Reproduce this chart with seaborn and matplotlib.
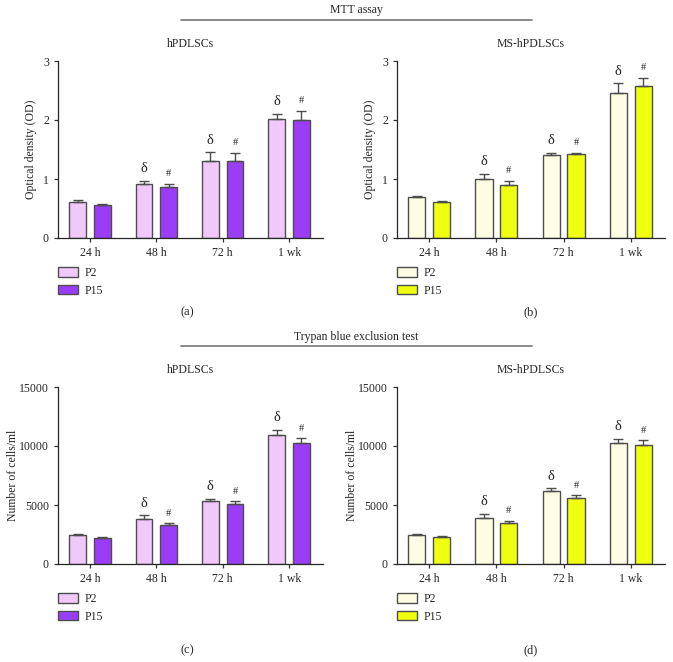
import pandas as pd
import matplotlib
matplotlib.use('Agg')
import matplotlib.pyplot as plt
from matplotlib.lines import Line2D
import seaborn as sns

# %% Data
times = ['24 h', '48 h', '72 h', '1 wk']
passages = ['P2', 'P15']

# MTT assay, optical density
mtt_h_p2 = [0.61, 0.91, 1.31, 2.02]
mtt_h_p2_err = [0.04, 0.06, 0.14, 0.09]
mtt_h_p15 = [0.555, 0.86, 1.30, 2.00]
mtt_h_p15_err = [0.015, 0.06, 0.14, 0.16]

mtt_ms_p2 = [0.69, 1.00, 1.40, 2.46]
mtt_ms_p2_err = [0.02, 0.09, 0.04, 0.16]
mtt_ms_p15 = [0.61, 0.89, 1.43, 2.57]
mtt_ms_p15_err = [0.01, 0.08, 0.01, 0.15]

# Trypan blue, cells/ml
tb_h_p2 = [2460, 3810, 5370, 10960]
tb_h_p2_err = [80, 310, 170, 400]
tb_h_p15 = [2230, 3300, 5080, 10280]
tb_h_p15_err = [60, 150, 230, 370]

tb_ms_p2 = [2460, 3900, 6210, 10230]
tb_ms_p2_err = [50, 340, 200, 360]
tb_ms_p15 = [2320, 3500, 5590, 10080]
tb_ms_p15_err = [50, 140, 230, 400]

# significance marks (None = no mark)
marks_p2 = [None, 'δ', 'δ', 'δ']
marks_p15 = [None, '#', '#', '#']

pal_h = {'P2': '#F0C9FA', 'P15': '#9B3DF6'}
pal_ms = {'P2': '#FDFDE4', 'P15': '#EEFF10'}

# %% Style
sns.set_style('ticks')
plt.rcParams['font.family'] = ['Liberation Serif', 'DejaVu Serif']
plt.rcParams['font.size'] = 8.5
plt.rcParams['axes.linewidth'] = 0.9

W, H = 673, 662
fig = plt.figure(figsize=(W / 100, H / 100), dpi=100)


def px_axes(left, top, right, bottom):
    return fig.add_axes([left / W, 1 - bottom / H, (right - left) / W, (bottom - top) / H])


def panel(ax, p2, p2_err, p15, p15_err, pal, title, ylabel, ymax, yticks, lpad=4):
    df = pd.DataFrame({
        'time': times * 2,
        'passage': ['P2'] * 4 + ['P15'] * 4,
        'value': p2 + p15,
    })
    sns.barplot(data=df, x='time', y='value', hue='passage', order=times,
                hue_order=passages, palette=pal, width=0.74, gap=0.31,
                errorbar=None, edgecolor='#4d4d4d', linewidth=1.0, saturation=1, ax=ax)
    errs = [p2_err, p15_err]
    vals = [p2, p15]
    marks = [marks_p2, marks_p15]
    bar_groups = list(ax.containers)
    for k, cont in enumerate(bar_groups):
        xs = [r.get_x() + r.get_width() / 2 for r in cont]
        ax.errorbar(xs, vals[k], yerr=[[0] * 4, errs[k]], fmt='none',
                    ecolor='#4d4d4d', elinewidth=1.0, capsize=3.3, capthick=1.0)
        for x, v, e, m in zip(xs, vals[k], errs[k], marks[k]):
            if m:
                fs = 10.5 if m == 'δ' else 7.5
                ax.annotate(m, (x, v + e), xytext=(0, 4), textcoords='offset points',
                            ha='center', va='bottom', fontsize=fs)
    ax.set_ylim(0, ymax)
    ax.set_yticks(yticks)
    ax.set_xlim(-0.48, 3.51)
    ax.set_xlabel('')
    ax.set_ylabel(ylabel, fontsize=8.5, labelpad=lpad)
    ax.set_title(title, fontsize=8.5, pad=10)
    ax.tick_params(axis='both', length=3, width=0.9, labelsize=8.5, color='#333333')
    sns.despine(ax=ax)
    sns.move_legend(ax, 'upper left', bbox_to_anchor=(0, -0.165), frameon=False,
                    title=None, fontsize=8.5, handlelength=1.7, handleheight=0.85,
                    handletextpad=0.55, labelspacing=0.45, borderaxespad=0, borderpad=0)


ax_a = px_axes(58, 61, 323, 238)
ax_b = px_axes(397, 61, 665, 238)
ax_c = px_axes(58, 387, 323, 564)
ax_d = px_axes(397, 387, 665, 564)

panel(ax_a, mtt_h_p2, mtt_h_p2_err, mtt_h_p15, mtt_h_p15_err, pal_h,
      'hPDLSCs', 'Optical density (OD)', 3, [0, 1, 2, 3])
panel(ax_b, mtt_ms_p2, mtt_ms_p2_err, mtt_ms_p15, mtt_ms_p15_err, pal_ms,
      'MS-hPDLSCs', 'Optical density (OD)', 3, [0, 1, 2, 3])
panel(ax_c, tb_h_p2, tb_h_p2_err, tb_h_p15, tb_h_p15_err, pal_h,
      'hPDLSCs', 'Number of cells/ml', 15000, [0, 5000, 10000, 15000], lpad=0)
panel(ax_d, tb_ms_p2, tb_ms_p2_err, tb_ms_p15, tb_ms_p15_err, pal_ms,
      'MS-hPDLSCs', 'Number of cells/ml', 15000, [0, 5000, 10000, 15000], lpad=0)

# %% Group headers and panel letters
for label, ty, ly in [('MTT assay', 10, 20), ('Trypan blue exclusion test', 337, 346)]:
    fig.text(356 / W, 1 - ty / H, label, ha='center', va='center', fontsize=8.5)
    fig.add_artist(Line2D([181 / W, 532 / W], [1 - ly / H, 1 - ly / H],
                          transform=fig.transFigure, color='#777777', lw=1.2))

for letter, x, y in [('(a)', 187, 312), ('(b)', 531, 312), ('(c)', 187, 650), ('(d)', 531, 650)]:
    fig.text(x / W, 1 - y / H, letter, ha='center', va='center', fontsize=9)

plt.savefig('out.png', dpi=100)
plt.close()
